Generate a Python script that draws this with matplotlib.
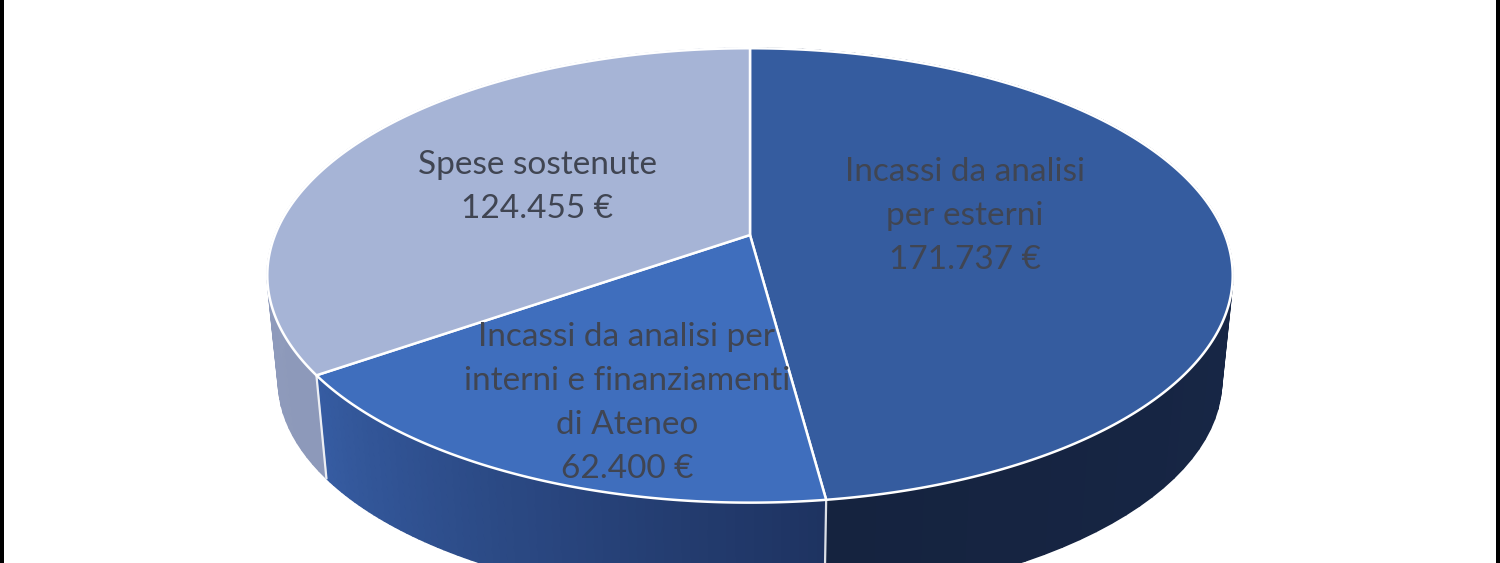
import numpy as np
import matplotlib
matplotlib.use("Agg")
import matplotlib.pyplot as plt
from matplotlib.colors import to_rgb

categories = ["Incassi da analisi\nper esterni",
              "Incassi da analisi per\ninterni e finanziamenti\ndi Ateneo",
              "Spese sostenute"]
values = [171737, 62400, 124455]
value_labels = ["171.737 €", "62.400 €", "124.455 €"]
top_colors = ["#355C9F", "#3F6EBD", "#A6B4D6"]
side_start = ["#1B2C50", "#1E3361", "#8D99BA"]   # colour at the slice's clockwise start
side_end = ["#15233F", "#365CA2", "#939FBF"]
label_pos = [(965, 216), (627, 403), (537, 187)]

W, H = 1500, 563
CX, CY = 750, 235
A, B, K = 475.0, 220.0, 0.178       # perspective disc
VY, S = 4850.0, 0.977               # extrusion vanishing point and scale


def top_xy(theta):
    u, v = np.sin(theta), -np.cos(theta)
    d = 1 - K * v
    return CX + A * u / d, CY + B * v / d


def bottom_xy(theta):
    x, y = top_xy(theta)
    return CX + S * (x - CX), VY + S * (y - VY)


fig = plt.figure(figsize=(15, 5.63), dpi=100, facecolor="white")
ax = fig.add_axes([0, 0, 1, 1])
ax.set_xlim(0, W)
ax.set_ylim(H, 0)
ax.axis("off")

# black side borders of the image
ax.axvspan(0, 4, color="black", lw=0)
ax.axvspan(1496, W, color="black", lw=0)

edges = 2 * np.pi * np.concatenate([[0], np.cumsum(values)]) / np.sum(values)

# sides
for i in range(len(values)):
    th = np.linspace(edges[i], edges[i + 1], 70)
    c0, c1 = np.array(to_rgb(side_start[i])), np.array(to_rgb(side_end[i]))
    xt, yt = top_xy(th)
    xb, yb = bottom_xy(th)
    ax.fill(np.r_[xt, xb[::-1]], np.r_[yt, yb[::-1]], facecolor=(c0 + c1) / 2,
            edgecolor="none", zorder=2)
    for j in range(len(th) - 1):
        t = j / (len(th) - 2)
        col = c0 + (c1 - c0) * t
        ax.fill(np.r_[xt[j:j + 2], xb[j:j + 2][::-1]],
                np.r_[yt[j:j + 2], yb[j:j + 2][::-1]], facecolor=col,
                edgecolor=col, lw=1.2, zorder=2)

# white seams between slices on the side wall
for e in edges[:-1]:
    xt, yt = top_xy(e)
    xb, yb = bottom_xy(e)
    if -np.cos(e) > 0:
        ax.plot([xt, xb], [yt, yb], color="white", lw=1.6, alpha=0.85, zorder=3)

# top faces
for i in range(len(values)):
    th = np.linspace(edges[i], edges[i + 1], 300)
    x, y = top_xy(th)
    ax.fill(np.r_[CX, x], np.r_[CY, y], facecolor=top_colors[i],
            edgecolor="white", lw=1.8, joinstyle="round", zorder=4)

# labels
for cat, val, (lx, ly) in zip(categories, value_labels, label_pos):
    ax.text(lx, ly, f"{cat}\n{val}", ha="center", va="center", family="Lato",
            fontsize=24, color="#404552", linespacing=1.57, zorder=5)

fig.savefig("out.png", dpi=100)
